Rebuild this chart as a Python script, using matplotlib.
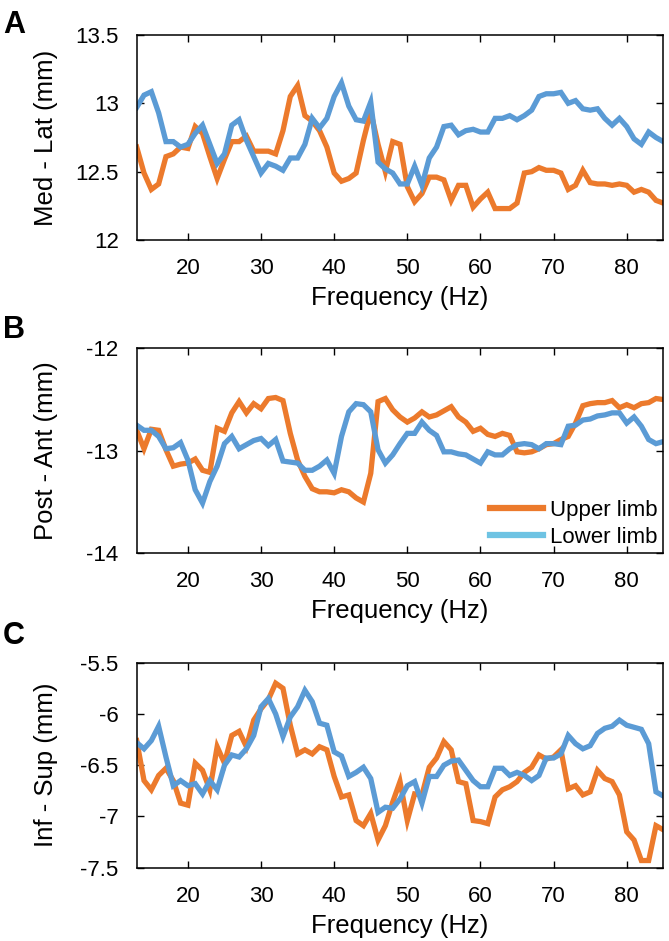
import matplotlib
matplotlib.use("Agg")
import matplotlib.pyplot as plt
from matplotlib.lines import Line2D
from matplotlib.ticker import FormatStrFormatter

plt.rcParams['font.family'] = ['Liberation Sans', 'DejaVu Sans']
plt.rcParams['axes.unicode_minus'] = False

freq = [13, 14, 15, 16, 17, 18, 19, 20, 21, 22, 23, 24, 25, 26, 27, 28, 29, 30,
        31, 32, 33, 34, 35, 36, 37, 38, 39, 40, 41, 42, 43, 44, 45, 46, 47, 48,
        49, 50, 51, 52, 53, 54, 55, 56, 57, 58, 59, 60, 61, 62, 63, 64, 65, 66,
        67, 68, 69, 70, 71, 72, 73, 74, 75, 76, 77, 78, 79, 80, 81, 82, 83, 84, 85]

medlat_upper = [12.68, 12.49, 12.37, 12.41, 12.61, 12.63, 12.68, 12.67, 12.83, 12.78,
                12.61, 12.45, 12.59, 12.72, 12.72, 12.76, 12.65, 12.65, 12.65, 12.63,
                12.80, 13.05, 13.13, 12.91, 12.87, 12.80, 12.68, 12.49, 12.43, 12.45,
                12.49, 12.73, 12.94, 12.70, 12.50, 12.72, 12.70, 12.39, 12.28, 12.34,
                12.46, 12.46, 12.44, 12.29, 12.40, 12.40, 12.24, 12.30, 12.35, 12.23,
                12.23, 12.23, 12.27, 12.49, 12.50, 12.53, 12.51, 12.51, 12.49, 12.37,
                12.40, 12.51, 12.42, 12.41, 12.41, 12.40, 12.41, 12.40, 12.35, 12.37,
                12.35, 12.29, 12.27]
medlat_lower = [12.97, 13.06, 13.085, 12.93, 12.72, 12.72, 12.68, 12.70, 12.78, 12.84,
                12.70, 12.56, 12.63, 12.84, 12.88, 12.73, 12.61, 12.49, 12.56, 12.54,
                12.51, 12.60, 12.60, 12.70, 12.89, 12.82, 12.89, 13.05, 13.15, 12.98,
                12.88, 12.87, 13.01, 12.57, 12.52, 12.49, 12.41, 12.41, 12.54, 12.40,
                12.60, 12.68, 12.83, 12.84, 12.77, 12.80, 12.81, 12.79, 12.79, 12.89,
                12.89, 12.91, 12.88, 12.91, 12.95, 13.05, 13.07, 13.07, 13.08, 13.00,
                13.02, 12.96, 12.95, 12.96, 12.89, 12.84, 12.89, 12.83, 12.74, 12.70,
                12.79, 12.75, 12.72]

postant_upper = [-12.80, -12.98, -12.79, -12.80, -12.99, -13.15, -13.13, -13.12, -13.08, -13.19,
                 -13.21, -12.78, -12.81, -12.63, -12.52, -12.63, -12.54, -12.59, -12.49, -12.48,
                 -12.51, -12.83, -13.09, -13.25, -13.37, -13.40, -13.40, -13.41, -13.38, -13.40,
                 -13.46, -13.50, -13.22, -12.52, -12.49, -12.60, -12.67, -12.72, -12.68, -12.62,
                 -12.67, -12.65, -12.61, -12.57, -12.67, -12.72, -12.81, -12.78, -12.84, -12.86,
                 -12.83, -12.85, -13.01, -13.02, -13.01, -12.98, -12.94, -12.93, -12.89, -12.86,
                 -12.73, -12.56, -12.54, -12.53, -12.53, -12.51, -12.58, -12.55, -12.58, -12.54,
                 -12.53, -12.49, -12.50]
postant_lower = [-12.75, -12.80, -12.80, -12.86, -12.98, -12.97, -12.92, -13.09, -13.38, -13.51,
                 -13.30, -13.15, -12.93, -12.86, -12.98, -12.94, -12.90, -12.88, -12.95, -12.89,
                 -13.10, -13.11, -13.12, -13.19, -13.19, -13.15, -13.09, -13.22, -12.86, -12.62,
                 -12.54, -12.55, -12.62, -12.99, -13.12, -13.04, -12.93, -12.83, -12.83, -12.72,
                 -12.80, -12.85, -13.01, -13.01, -13.03, -13.04, -13.08, -13.12, -13.01, -13.04,
                 -13.04, -12.98, -12.94, -12.93, -12.94, -12.98, -12.93, -12.93, -12.94, -12.76,
                 -12.75, -12.70, -12.69, -12.66, -12.65, -12.63, -12.63, -12.73, -12.67, -12.76,
                 -12.89, -12.93, -12.91]

infsup_upper = [-6.26, -6.65, -6.74, -6.60, -6.53, -6.65, -6.87, -6.89, -6.48, -6.55,
                -6.74, -6.32, -6.48, -6.21, -6.17, -6.32, -6.06, -5.95, -5.86, -5.70,
                -5.75, -6.11, -6.39, -6.35, -6.39, -6.32, -6.35, -6.61, -6.81, -6.79,
                -7.04, -7.09, -6.97, -7.23, -7.09, -6.86, -6.66, -7.04, -6.78, -6.79,
                -6.52, -6.43, -6.27, -6.35, -6.66, -6.68, -7.04, -7.05, -7.07, -6.81,
                -6.74, -6.71, -6.66, -6.57, -6.52, -6.40, -6.44, -6.42, -6.35, -6.73,
                -6.70, -6.79, -6.76, -6.55, -6.63, -6.66, -6.79, -7.15, -7.23, -7.43,
                -7.43, -7.09, -7.13]
infsup_lower = [-6.28, -6.34, -6.26, -6.12, -6.42, -6.70, -6.65, -6.70, -6.68, -6.78,
                -6.65, -6.74, -6.50, -6.40, -6.42, -6.34, -6.21, -5.93, -5.85, -6.00,
                -6.22, -6.03, -5.93, -5.77, -5.88, -6.09, -6.11, -6.37, -6.41, -6.61,
                -6.57, -6.52, -6.63, -6.96, -6.91, -6.92, -6.83, -6.70, -6.66, -6.87,
                -6.61, -6.61, -6.50, -6.46, -6.45, -6.55, -6.65, -6.71, -6.71, -6.53,
                -6.53, -6.60, -6.57, -6.60, -6.65, -6.60, -6.43, -6.43, -6.39, -6.21,
                -6.29, -6.34, -6.31, -6.19, -6.14, -6.12, -6.06, -6.11, -6.13, -6.15,
                -6.29, -6.76, -6.80]

panel_letters = ['A', 'B', 'C']
ylabels = ['Med - Lat (mm)', 'Post - Ant (mm)', 'Inf - Sup (mm)']
ylims = [(12, 13.5), (-14, -12), (-7.5, -5.5)]
yticks = [[12, 12.5, 13, 13.5], [-14, -13, -12], [-7.5, -7, -6.5, -6, -5.5]]
xticks = [20, 30, 40, 50, 60, 70, 80]
legend_labels = ['Upper limb', 'Lower limb']

c_upper = '#EC7A2C'
c_lower = '#5B9BD5'
c_lower_legend = '#6EC3E3'

W, H = 669, 941
fig = plt.figure(figsize=(W / 100, H / 100), dpi=100)

ax_tops = [35, 348.3, 662.7]
letter_tops = [10, 315, 621]
ax_left, ax_right, ax_h = 136.7, 663.3, 205

series = [(medlat_upper, medlat_lower), (postant_upper, postant_lower),
          (infsup_upper, infsup_lower)]

for i in range(3):
    top = ax_tops[i]
    ax = fig.add_axes([ax_left / W, 1 - (top + ax_h) / H, (ax_right - ax_left) / W, ax_h / H])
    up, lo = series[i]
    ax.plot(freq, up, color=c_upper, lw=3.8, solid_joinstyle='miter')
    ax.plot(freq, lo, color=c_lower, lw=3.8, solid_joinstyle='miter')
    ax.set_xlim(13, 85)
    ax.set_ylim(*ylims[i])
    ax.set_xticks(xticks)
    ax.set_yticks(yticks[i])
    ax.yaxis.set_major_formatter(FormatStrFormatter('%g'))
    ax.tick_params(direction='in', top=True, right=True, length=5, width=1,
                   labelsize=16, pad=13)
    for s in ax.spines.values():
        s.set_linewidth(1.1)
    ax.set_xlabel('Frequency (Hz)', fontsize=18.5)
    ax.set_ylabel(ylabels[i], fontsize=18.5)
    ax.yaxis.set_label_coords((58 - ax_left) / (ax_right - ax_left), 0.5)
    ax.xaxis.set_label_coords(0.5, -0.225)
    fig.text(3 / W, 1 - letter_tops[i] / H, panel_letters[i], fontsize=22,
             fontweight='bold', va='top', ha='left')
    if i == 1:
        handles = [Line2D([], [], color=c_upper, lw=4.5),
                   Line2D([], [], color=c_lower_legend, lw=4.5)]
        ax.legend(handles, legend_labels, loc='lower right', frameon=False,
                  fontsize=16, handlelength=2.4, handletextpad=0.3,
                  borderaxespad=0.05, labelspacing=0.25, borderpad=0.2)

fig.savefig('out.png', dpi=100)
